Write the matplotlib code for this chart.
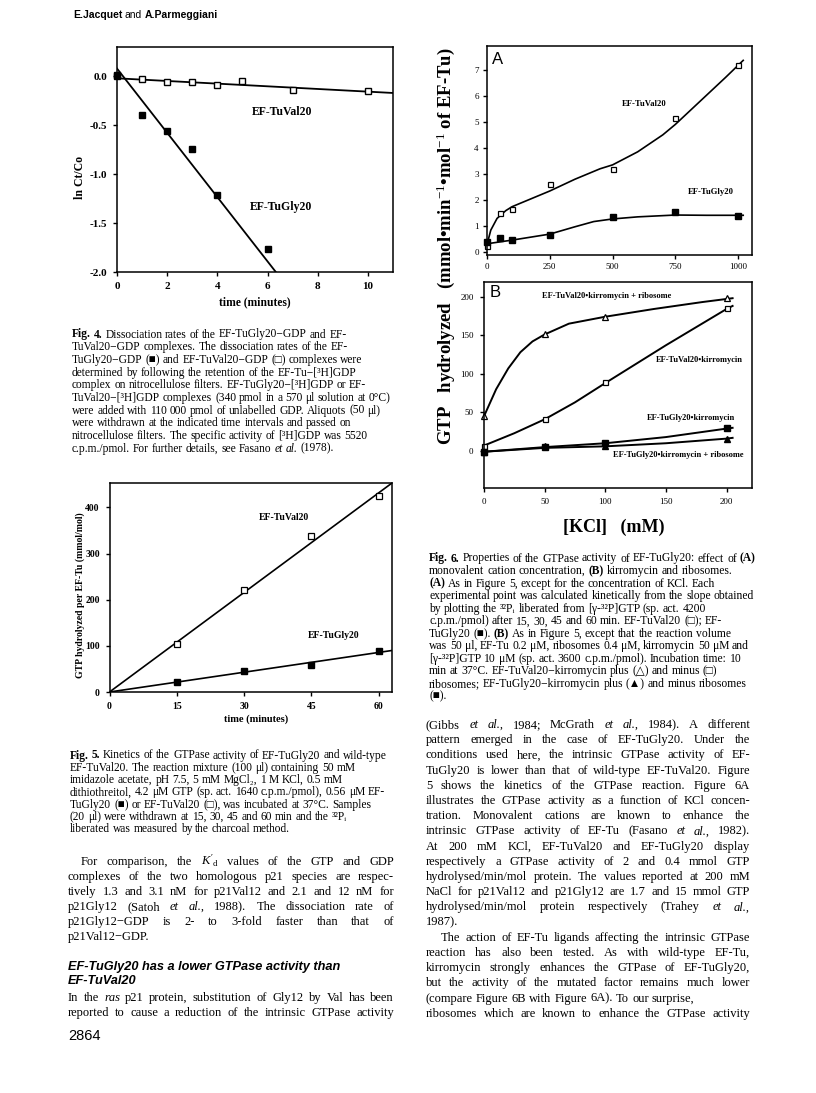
import matplotlib
matplotlib.use("Agg")
import matplotlib.pyplot as plt

W, H, DPI = 816, 1093, 100
SERIF = ["Liberation Serif", "DejaVu Serif", "DejaVu Sans"]
SANS = ["Liberation Sans", "DejaVu Sans"]

plt.rcParams["font.family"] = SERIF
plt.rcParams["mathtext.fontset"] = "custom"
plt.rcParams["mathtext.rm"] = "Liberation Serif"
plt.rcParams["mathtext.it"] = "Liberation Serif:italic"
plt.rcParams["mathtext.bf"] = "Liberation Serif:bold"
plt.rcParams["mathtext.fallback"] = "stix"
plt.rcParams["axes.linewidth"] = 1.1

# ---- Fig. 4: dissociation rates ----
fig4_t_val = [0, 1, 2, 3, 4, 5, 7, 10]
fig4_val = [0.0, -0.03, -0.055, -0.055, -0.09, -0.045, -0.14, -0.145]
fig4_t_gly = [0, 1, 2, 3, 4, 6]
fig4_gly = [0.01, -0.39, -0.56, -0.745, -1.21, -1.76]
fig4_fit_val_t = [0, 11]
fig4_fit_val = [-0.02, -0.17]
fig4_fit_gly_t = [0, 6.33]
fig4_fit_gly = [0.08, -2.0]
fig4_xticks = [0, 2, 4, 6, 8, 10]
fig4_yticks = [0.0, -0.5, -1.0, -1.5, -2.0]
fig4_ylabels = ["0.0", "-0.5", "-1.0", "-1.5", "-2.0"]

# ---- Fig. 5: GTPase kinetics ----
fig5_t = [15, 30, 45, 60]
fig5_val = [103, 220, 338, 425]
fig5_gly = [22, 45, 59, 89]
fig5_fit_t = [0, 63]
fig5_fit_val = [0, 453]
fig5_fit_gly = [0, 90]
fig5_xticks = [0, 15, 30, 45, 60]
fig5_yticks = [0, 100, 200, 300, 400]

# ---- Fig. 6A: KCl dependence ----
fig6a_kcl = [0, 50, 100, 250, 500, 750, 1000]
fig6a_val = [0.25, 1.5, 1.66, 2.61, 3.2, 5.14, 7.18]
fig6a_gly = [0.38, 0.55, 0.48, 0.68, 1.34, 1.53, 1.4]
fig6a_curve_val_x = [0, 15, 40, 75, 100, 175, 250, 350, 450, 500, 600, 700, 750, 850, 950, 1020]
fig6a_curve_val = [0.3, 0.85, 1.3, 1.6, 1.75, 2.05, 2.35, 2.8, 3.2, 3.35, 3.85, 4.5, 4.9, 5.8, 6.7, 7.35]
fig6a_curve_gly_x = [0, 100, 250, 350, 425, 500, 600, 750, 875, 1020]
fig6a_curve_gly = [0.33, 0.47, 0.7, 0.98, 1.18, 1.28, 1.36, 1.43, 1.42, 1.42]
fig6a_xticks = [0, 250, 500, 750, 1000]
fig6a_yticks = [0, 1, 2, 3, 4, 5, 6, 7]

# ---- Fig. 6B: kirromycin and ribosomes ----
fig6b_kcl = [0, 50, 100, 200]
fig6b_val_ribo = [45, 151, 174, 198]
fig6b_val = [7, 42, 89, 185]
fig6b_gly = [-1, 5, 10, 30]
fig6b_gly_ribo = [-1, 6.5, 6, 16]
fig6b_curve_val_ribo_x = [0, 10, 20, 30, 40, 50, 70, 100, 140, 180, 205]
fig6b_curve_val_ribo = [45, 80, 107, 128, 142, 151, 165, 174, 184, 193, 198]
fig6b_curve_val_x = [0, 25, 50, 75, 100, 150, 200, 205]
fig6b_curve_val = [7, 23, 41, 63, 88, 137, 184, 188]
fig6b_curve_gly_x = [0, 50, 100, 150, 200, 205]
fig6b_curve_gly = [-1, 5, 10, 18, 29, 30]
fig6b_curve_gly_ribo = [-1, 4, 6, 10, 16, 17]
fig6b_xticks = [0, 50, 100, 150, 200]
fig6b_yticks = [0, 50, 100, 150, 200]

# ---- page text ----
caption4 = [
    "**Fig.** **4.** Dissociation rates of the EF-TuGly20\u2212GDP and EF-",
    "TuVal20\u2212GDP complexes. The dissociation rates of the EF-",
    "TuGly20\u2212GDP (\u25a0) and EF-TuVal20\u2212GDP (\u25a1) complexes were",
    "determined by following the retention of the EF-Tu\u2212[\u00b3H]GDP",
    "complex on nitrocellulose filters. EF-TuGly20\u2212[\u00b3H]GDP or EF-",
    "TuVal20\u2212[\u00b3H]GDP complexes (340 pmol in a 570 \u03bcl solution at 0\u00b0C)",
    "were added with 110 000 pmol of unlabelled GDP. Aliquots (50 \u03bcl)",
    "were withdrawn at the indicated time intervals and passed on",
    "nitrocellulose filters. The specific activity of [\u00b3H]GDP was 5520",
    "c.p.m./pmol. For further details, see Fasano ~et ~al. (1978).",
]
caption5 = [
    "**Fig.** **5.** Kinetics of the GTPase activity of EF-TuGly20 and wild-type",
    "EF-TuVal20. The reaction mixture (100 \u03bcl) containing 50 mM",
    "imidazole acetate, pH 7.5, 5 mM MgCl\u2082, 1 M KCl, 0.5 mM",
    "dithiothreitol, 4.2 \u03bcM GTP (sp. act. 1640 c.p.m./pmol), 0.56 \u03bcM EF-",
    "TuGly20 (\u25a0) or EF-TuVal20 (\u25a1), was incubated at 37\u00b0C. Samples",
    "(20 \u03bcl) were withdrawn at 15, 30, 45 and 60 min and the \u00b3\u00b2P\u1d62",
    "liberated was measured by the charcoal method.",
]
caption6 = [
    "**Fig.** **6.** Properties of the GTPase activity of EF-TuGly20: effect of **(A)**",
    "monovalent cation concentration, **(B)** kirromycin and ribosomes.",
    "**(A)** As in Figure 5, except for the concentration of KCl. Each",
    "experimental point was calculated kinetically from the slope obtained",
    "by plotting the \u00b3\u00b2P\u1d62 liberated from [\u03b3-\u00b3\u00b2P]GTP (sp. act. 4200",
    "c.p.m./pmol) after 15, 30, 45 and 60 min. EF-TuVal20 (\u25a1); EF-",
    "TuGly20 (\u25a0). **(B)** As in Figure 5, except that the reaction volume",
    "was 50 \u03bcl, EF-Tu 0.2 \u03bcM, ribosomes 0.4 \u03bcM, kirromycin 50 \u03bcM and",
    "[\u03b3-\u00b3\u00b2P]GTP 10 \u03bcM (sp. act. 3600 c.p.m./pmol). Incubation time: 10",
    "min at 37\u00b0C. EF-TuVal20\u2212kirromycin plus (\u25b3) and minus (\u25a1)",
    "ribosomes; EF-TuGly20\u2212kirromycin plus (\u25b2) and minus ribosomes",
    "(\u25a0).",
]
body_left_1 = [
    "For comparison, the $K'_\\mathrm{d}$ values of the GTP and GDP",
    "complexes of the two homologous p21 species are respec-",
    "tively 1.3 and 3.1 nM for p21Val12 and 2.1 and 12 nM for",
    "p21Gly12 (Satoh ~et ~al., 1988). The dissociation rate of",
    "p21Gly12\u2212GDP is 2- to 3-fold faster than that of",
    "p21Val12\u2212GDP.",
]
heading = ["EF-TuGly20 has a lower GTPase activity than", "EF-TuVal20"]
body_left_2 = [
    "In the ~ras p21 protein, substitution of Gly12 by Val has been",
    "reported to cause a reduction of the intrinsic GTPase activity",
]
body_right_1 = [
    "(Gibbs ~et ~al., 1984; McGrath ~et ~al., 1984). A different",
    "pattern emerged in the case of EF-TuGly20. Under the",
    "conditions used here, the intrinsic GTPase activity of EF-",
    "TuGly20 is lower than that of wild-type EF-TuVal20. Figure",
    "5 shows the kinetics of the GTPase reaction. Figure 6A",
    "illustrates the GTPase activity as a function of KCl concen-",
    "tration. Monovalent cations are known to enhance the",
    "intrinsic GTPase activity of EF-Tu (Fasano ~et ~al., 1982).",
    "At 200 mM KCl, EF-TuVal20 and EF-TuGly20 display",
    "respectively a GTPase activity of 2 and 0.4 mmol GTP",
    "hydrolysed/min/mol protein. The values reported at 200 mM",
    "NaCl for p21Val12 and p21Gly12 are 1.7 and 15 mmol GTP",
    "hydrolysed/min/mol protein respectively (Trahey ~et ~al.,",
    "1987).",
]
body_right_2 = [
    "The action of EF-Tu ligands affecting the intrinsic GTPase",
    "reaction has also been tested. As with wild-type EF-Tu,",
    "kirromycin strongly enhances the GTPase of EF-TuGly20,",
    "but the activity of the mutated factor remains much lower",
    "(compare Figure 6B with Figure 6A). To our surprise,",
    "ribosomes which are known to enhance the GTPase activity",
]

fig = plt.figure(figsize=(W / DPI, H / DPI), dpi=DPI)
fig.patch.set_facecolor("white")
renderer = fig.canvas.get_renderer()


def fx(x, y):
    return x / W, 1 - y / H


def box(l, t, r, b):
    return [l / W, 1 - b / H, (r - l) / W, (b - t) / H]


def put_line(x, y, line, size, width=None, indent=0, family=SERIF):
    # one Text per word so that lines can be justified like the printed page
    arts, widths = [], []
    for word in line.split(" "):
        weight, style = "normal", "normal"
        if word.startswith("**") and word.endswith("**"):
            word, weight = word[2:-2], "bold"
        elif word.startswith("~"):
            word, style = word[1:], "italic"
        t = fig.text(0, 0, word, fontsize=size, family=family,
                     fontweight=weight, fontstyle=style, va="baseline")
        arts.append(t)
        widths.append(t.get_window_extent(renderer).width)
    gap = 0.25 * size * DPI / 72
    if width is not None and len(arts) > 1:
        gap = (width - indent - sum(widths)) / (len(arts) - 1)
    cx = x + indent
    for t, w in zip(arts, widths):
        t.set_position(fx(cx, y))
        cx += w + gap


def put_block(x, y0, step, lines, size, width=None, indent=0):
    for i, line in enumerate(lines):
        last = i == len(lines) - 1
        put_line(x, y0 + i * step, line, size,
                 width=None if last else width, indent=indent if i == 0 else 0)


# header and page number
put_line(73, 18, "**E.Jacquet** and **A.Parmeggiani**", 7.5, family=SANS)
fig.text(*fx(68, 1040), "2864", fontsize=10.5, family=SANS, va="baseline")

# ---------- Fig. 4 ----------
ax4 = fig.add_axes(box(117, 47, 393, 272))
ax4.plot(fig4_fit_val_t, fig4_fit_val, color="black", lw=1.3)
ax4.plot(fig4_fit_gly_t, fig4_fit_gly, color="black", lw=1.3)
ax4.plot(fig4_t_val, fig4_val, ls="none", marker="s", ms=4.2, mfc="white",
         mec="black", mew=1.0, clip_on=False)
ax4.plot(fig4_t_gly, fig4_gly, ls="none", marker="s", ms=4.6, color="black",
         clip_on=False)
ax4.set_xlim(0, 11)
ax4.set_ylim(-2.0, 0.3)
ax4.set_xticks(fig4_xticks, [str(v) for v in fig4_xticks], fontweight="bold")
ax4.set_yticks(fig4_yticks, fig4_ylabels, fontweight="bold")
ax4.tick_params(direction="out", length=3, width=1, labelsize=8, pad=4)
fig.text(*fx(252, 112), "EF-TuVal20", fontsize=8.5, fontweight="bold", va="center")
fig.text(*fx(250, 207), "EF-TuGly20", fontsize=8.5, fontweight="bold", va="center")
fig.text(*fx(80, 177), "ln Ct/Co", fontsize=8.5, fontweight="bold",
         rotation=90, ha="center", va="center")
fig.text(*fx(255, 302), "time (minutes)", fontsize=8.3, fontweight="bold",
         ha="center", va="center")
put_block(72, 337.5, 12.67, caption4, 8.3)

# ---------- Fig. 5 ----------
ax5 = fig.add_axes(box(109.5, 483, 392, 692))
ax5.plot(fig5_fit_t, fig5_fit_val, color="black", lw=1.2)
ax5.plot(fig5_fit_t, fig5_fit_gly, color="black", lw=1.2)
ax5.plot(fig5_t, fig5_val, ls="none", marker="s", ms=3.8, mfc="white",
         mec="black", mew=0.9, clip_on=False)
ax5.plot(fig5_t, fig5_gly, ls="none", marker="s", ms=4, color="black",
         clip_on=False)
ax5.set_xlim(0, 63)
ax5.set_ylim(0, 453)
ax5.set_xticks(fig5_xticks, [str(v) for v in fig5_xticks], fontweight="bold")
ax5.set_yticks(fig5_yticks, [str(v) for v in fig5_yticks], fontweight="bold")
ax5.tick_params(direction="out", length=3, width=1, labelsize=7, pad=4)
fig.text(*fx(259, 518), "EF-TuVal20", fontsize=7, fontweight="bold", va="center")
fig.text(*fx(308, 635), "EF-TuGly20", fontsize=7, fontweight="bold", va="center")
fig.text(*fx(80, 595), "GTP hydrolyzed per EF-Tu (mmol/mol)", fontsize=7,
         fontweight="bold", rotation=90, ha="center", va="center")
fig.text(*fx(256, 719), "time (minutes)", fontsize=7.5, fontweight="bold",
         ha="center", va="center")
put_block(70, 758.5, 12.33, caption5, 8.3)

# ---------- Fig. 6A ----------
ax6a = fig.add_axes(box(487, 46, 752, 255))
ax6a.plot(fig6a_curve_val_x, fig6a_curve_val, color="black", lw=1.2)
ax6a.plot(fig6a_curve_gly_x, fig6a_curve_gly, color="black", lw=1.2)
ax6a.plot(fig6a_kcl, fig6a_val, ls="none", marker="s", ms=3.6, mfc="white",
          mec="black", mew=0.9, clip_on=False)
ax6a.plot(fig6a_kcl, fig6a_gly, ls="none", marker="s", ms=3.8, color="black",
          clip_on=False)
ax6a.set_xlim(0, 1055)
ax6a.set_ylim(-0.1, 7.9)
ax6a.set_xticks(fig6a_xticks, [str(v) for v in fig6a_xticks])
ax6a.set_yticks(fig6a_yticks, [str(v) for v in fig6a_yticks])
ax6a.tick_params(direction="out", length=3, width=1, labelsize=6.5, pad=3)
fig.text(*fx(492, 59), "A", fontsize=12, family=SANS, va="center")
fig.text(*fx(622, 104), "EF-TuVal20", fontsize=6.2, fontweight="bold", va="center")
fig.text(*fx(688, 192), "EF-TuGly20", fontsize=6.2, fontweight="bold", va="center")

# ---------- Fig. 6B ----------
ax6b = fig.add_axes(box(484, 282, 752, 488))
ax6b.plot(fig6b_curve_val_ribo_x, fig6b_curve_val_ribo, color="black", lw=1.4)
ax6b.plot(fig6b_curve_val_x, fig6b_curve_val, color="black", lw=1.4)
ax6b.plot(fig6b_curve_gly_x, fig6b_curve_gly, color="black", lw=1.4)
ax6b.plot(fig6b_curve_gly_x, fig6b_curve_gly_ribo, color="black", lw=1.4)
ax6b.plot(fig6b_kcl, fig6b_val_ribo, ls="none", marker="^", ms=4, mfc="white",
          mec="black", mew=0.9, clip_on=False)
ax6b.plot(fig6b_kcl, fig6b_val, ls="none", marker="s", ms=3.6, mfc="white",
          mec="black", mew=0.9, clip_on=False)
ax6b.plot(fig6b_kcl, fig6b_gly, ls="none", marker="s", ms=3.8, color="black",
          clip_on=False)
ax6b.plot(fig6b_kcl, fig6b_gly_ribo, ls="none", marker="^", ms=4, color="black",
          clip_on=False)
ax6b.set_xlim(0, 221)
ax6b.set_ylim(-48, 219)
ax6b.set_xticks(fig6b_xticks, [str(v) for v in fig6b_xticks])
ax6b.set_yticks(fig6b_yticks, [str(v) for v in fig6b_yticks])
ax6b.tick_params(direction="out", length=3, width=1, labelsize=6.5, pad=4.5)
fig.text(*fx(490, 293), "B", fontsize=12, family=SANS, va="center")
fig.text(*fx(542, 296), "EF-TuVal20\u2022kirromycin + ribosome", fontsize=6,
         fontweight="bold", va="center")
fig.text(*fx(656, 360), "EF-TuVal20\u2022kirromycin", fontsize=6,
         fontweight="bold", va="center")
fig.text(*fx(647, 418), "EF-TuGly20\u2022kirromycin", fontsize=6,
         fontweight="bold", va="center")
fig.text(*fx(613, 455), "EF-TuGly20\u2022kirromycin + ribosome", fontsize=6,
         fontweight="bold", va="center")
fig.text(*fx(614, 527), "[KCl]   (mM)", fontsize=13, fontweight="bold",
         ha="center", va="center")
fig.text(*fx(446, 246),
         "GTP   hydrolyzed   (mmol\u2022min$^{-1}$\u2022mol$^{-1}$ of EF-Tu)",
         fontsize=13.5, fontweight="bold", rotation=90, ha="center", va="center")
put_block(429, 561.5, 12.55, caption6, 8.4)

# ---------- running text ----------
put_block(68, 865, 15, body_left_1, 9, width=326, indent=13)
for i, line in enumerate(heading):
    fig.text(*fx(68, 970 + i * 14.5), line, fontsize=9.2, family=SANS,
             fontweight="bold", fontstyle="italic", va="baseline")
put_line(68, 1001, body_left_2[0], 9, width=326)
put_line(68, 1016, body_left_2[1], 9, width=326)
put_block(426, 728, 15.2, body_right_1, 9, width=324)
put_block(426, 728 + 14 * 15.2, 15.2, body_right_2[:-1], 9, width=324, indent=15)
put_line(426, 728 + 19 * 15.2, body_right_2[-1], 9, width=324)

fig.savefig("out.png", dpi=DPI, facecolor="white")
